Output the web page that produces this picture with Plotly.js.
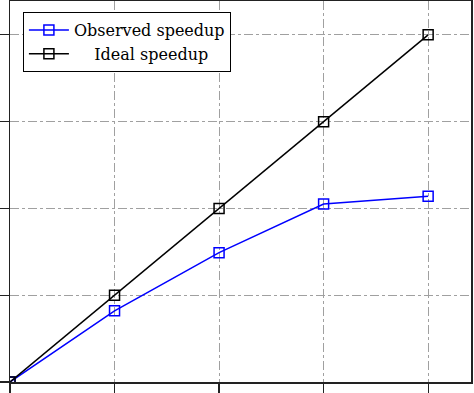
<!DOCTYPE html>
<html>
<head>
<meta charset="utf-8">
<script src="https://cdn.plot.ly/plotly-3.0.1.min.js"></script>
<style>html,body{margin:0;padding:0;background:#fff;}#chart{width:474px;height:393px;}</style>
</head>
<body>
<div id="chart"></div>
<script>
const cores = [1, 2, 3, 4, 5];
const observed = [1, 1.82, 2.49, 3.05, 3.14];
const ideal = [1, 2, 3, 4, 5];
const seriesNames = ["Observed speedup", "\u00a0\u00a0\u00a0\u00a0Ideal speedup"];

const traces = [
  {x: cores, y: observed, name: seriesNames[0], mode: "lines+markers",
   line: {color: "#0000ff", width: 1.5},
   marker: {symbol: "square-open", size: 10, color: "#0000ff", line: {width: 1.5}}},
  {x: cores, y: ideal, name: seriesNames[1], mode: "lines+markers",
   line: {color: "#000000", width: 1.5},
   marker: {symbol: "square-open", size: 10, color: "#000000", line: {width: 1.5}}}
];

const axisCommon = {
  showline: true, linecolor: "#222", linewidth: 1.5, mirror: true,
  ticks: "outside", ticklen: 11, tickcolor: "#222", tickwidth: 1.2,
  showticklabels: false, zeroline: false,
  showgrid: true, gridcolor: "#a0a0a0", gridwidth: 1, griddash: "dashdot"
};

const layout = {
  width: 474, height: 393,
  margin: {l: 10, r: 3, t: 1, b: 11},
  paper_bgcolor: "#fff", plot_bgcolor: "#fff",
  showlegend: true,
  legend: {x: 0.028, y: 0.971, xanchor: "left", yanchor: "top",
    bgcolor: "#fff", bordercolor: "#000", borderwidth: 1,
    font: {family: "DejaVu Serif, Liberation Serif, serif", size: 16, color: "#000"},
    itemwidth: 40, tracegroupgap: 0},
  xaxis: Object.assign({range: [1, 5.41], dtick: 1, tick0: 1}, axisCommon),
  yaxis: Object.assign({range: [1, 5.39], dtick: 1, tick0: 1}, axisCommon)
};

Plotly.newPlot("chart", traces, layout, {displayModeBar: false, staticPlot: true});
</script>
</body>
</html>
